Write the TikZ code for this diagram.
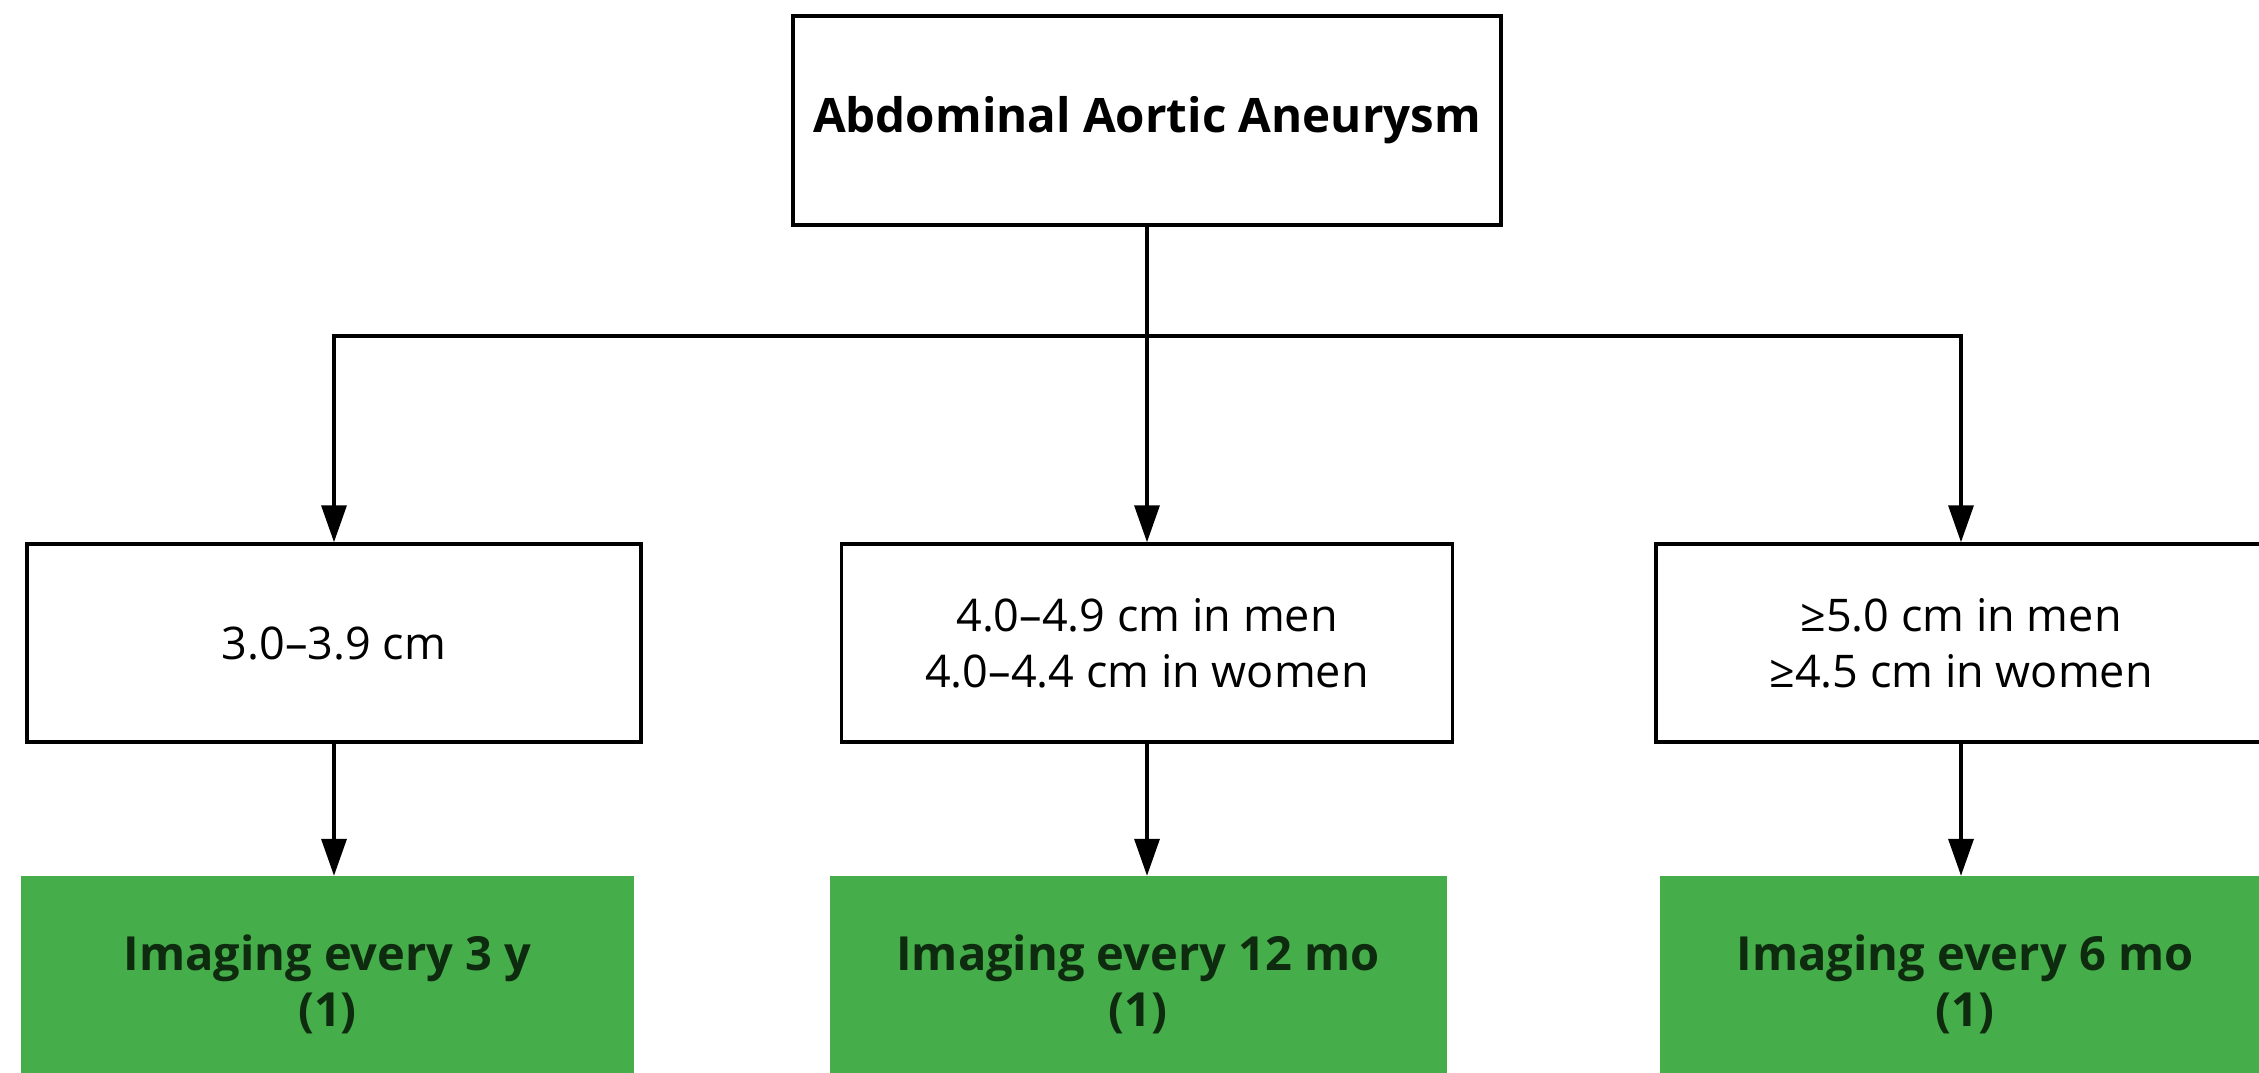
\documentclass[tikz,border=0pt]{standalone}
\usepackage{fontspec}
\setmainfont{Open Sans}
\usetikzlibrary{arrows.meta}
\definecolor{boxgreen}{HTML}{45AD4A}
\definecolor{textgreen}{HTML}{0E2A0F}

\begin{document}
\begin{tikzpicture}[x=1pt,y=-1pt,
  plainbox/.style={draw=black, line width=3.5pt, fill=white, inner sep=0pt,
    align=center, font=\fontsize{45}{56}\selectfont},
  titlebox/.style={plainbox, font=\fontsize{47.5}{60}\bfseries\selectfont},
  actionbox/.style={fill=boxgreen, inner sep=0pt, align=center,
    text=textgreen, font=\fontsize{47}{56}\bfseries\selectfont},
  link/.style={line width=3.5pt, draw=black},
  flow/.style={link, -{Triangle[width=25pt,length=37pt]}}
]
\useasboundingbox (0,0) rectangle (2259,1073);
\clip (0,0) rectangle (2259,1073);

% root
\node[titlebox, minimum width=708pt, minimum height=209pt] (root) at (1147,120.5)
  {Abdominal Aortic Aneurysm};

% size classes
\node[plainbox, minimum width=614pt, minimum height=198pt] (small) at (334,643)
  {3.0–3.9 cm};
\node[plainbox, minimum width=611pt, minimum height=198pt] (medium) at (1147,643)
  {4.0–4.9 cm in men\\4.0–4.4 cm in women};
\node[plainbox, minimum width=610pt, minimum height=198pt] (large) at (1961,643)
  {≥5.0 cm in men\\≥4.5 cm in women};

% surveillance intervals
\node[actionbox, minimum width=613pt, minimum height=216pt] (smallimg) at (327.5,984)
  {Imaging every 3 y\\(1)};
\node[actionbox, minimum width=617pt, minimum height=216pt] (mediumimg) at (1138,984)
  {Imaging every 12 mo\\(1)};
\node[actionbox, minimum width=610pt, minimum height=216pt] (largeimg) at (1965,984)
  {Imaging every 6 mo\\(1)};

% branching connectors
\coordinate (split) at (1147,336);
\draw[link] (root.south) -- (split);
\draw[flow] (split) -| (small.north);
\draw[flow] (split) -- (medium.north);
\draw[flow] (split) -| (large.north);

\draw[flow] (small.south) -- (small.south |- smallimg.north);
\draw[flow] (medium.south) -- (medium.south |- mediumimg.north);
\draw[flow] (large.south) -- (large.south |- largeimg.north);
\end{tikzpicture}
\end{document}
